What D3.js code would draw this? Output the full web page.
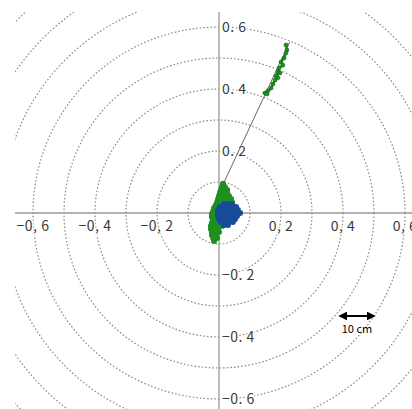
<!DOCTYPE html>
<html><head><meta charset="utf-8">
<script src="https://cdn.jsdelivr.net/npm/d3@7/dist/d3.min.js"></script>
<style>html,body{margin:0;padding:0;background:#fff;}svg{display:block;}</style>
</head><body>
<svg id="c" width="412" height="409"></svg>
<script>
// ---- data (metres) ----
const ringRadii = [0.1,0.2,0.3,0.4,0.5,0.6,0.7,0.8,0.9,1.0];
const xTicks = [-0.6,-0.4,-0.2,0.2,0.4,0.6];
const yTicks = [0.6,0.4,0.2,-0.2,-0.4,-0.6];
const xTickLabels = ["−0, 6","−0, 4","−0, 2","0, 2","0, 4","0, 6"];
const yTickLabels = ["0. 6","0. 4","0. 2","−0. 2","−0. 4","−0. 6"];
const greenCluster = [
 [0.013,0.094],[0.010,0.084],[0.019,0.084],[0.006,0.074],[0.016,0.074],[0.026,0.074],
 [0.003,0.065],[0.013,0.065],[0.026,0.065],[0,0.055],[0.010,0.055],[0.023,0.055],[0.032,0.055],
 [-0.003,0.045],[0.006,0.045],[0.019,0.045],[0.032,0.045],[0.039,0.045],
 [-0.006,0.035],[0.003,0.035],[0.016,0.035],[0.029,0.035],[0.042,0.035],
 [-0.010,0.026],[0,0.026],[0.013,0.026],[-0.016,0.016],[-0.006,0.016],[0.003,0.016],
 [-0.019,0.006],[-0.010,0.006],[0,0.006],[-0.023,-0.003],[-0.013,-0.003],[-0.003,-0.003],
 [-0.023,-0.013],[-0.013,-0.013],[-0.003,-0.013],[0.006,-0.013],
 [-0.019,-0.023],[-0.010,-0.023],[0.003,-0.023],[0.016,-0.023],
 [-0.023,-0.032],[-0.013,-0.032],[0,-0.032],[0.013,-0.032],
 [-0.026,-0.042],[-0.016,-0.042],[-0.003,-0.042],[0.010,-0.042],
 [-0.026,-0.052],[-0.016,-0.052],[-0.003,-0.052],[-0.023,-0.061],[-0.013,-0.061],[0,-0.061],
 [-0.023,-0.071],[-0.010,-0.071],[-0.019,-0.081],[-0.006,-0.081],[-0.016,-0.090]
];
const greenTrail = [
 [0.216,0.542],[0.219,0.526],[0.216,0.516],[0.210,0.500],[0.200,0.487],[0.206,0.477],
 [0.194,0.468],[0.190,0.455],[0.197,0.452],[0.184,0.442],[0.190,0.436],[0.181,0.429],
 [0.174,0.416],[0.168,0.403],[0.158,0.394],[0.148,0.387],[0.155,0.384]
];
const blueCluster = [
 [0.016,0.029],[0.029,0.029],[0.042,0.029],
 [0.003,0.019],[0.016,0.019],[0.029,0.019],[0.042,0.019],[0.055,0.019],
 [-0.003,0.010],[0.010,0.010],[0.023,0.010],[0.035,0.010],[0.048,0.010],[0.061,0.010],
 [-0.003,0],[0.010,0],[0.023,0],[0.035,0],[0.048,0],[0.061,0],[0.068,0],
 [-0.003,-0.010],[0.010,-0.010],[0.023,-0.010],[0.035,-0.010],[0.048,-0.010],[0.058,-0.010],
 [0,-0.019],[0.013,-0.019],[0.026,-0.019],[0.039,-0.019],[0.052,-0.019],
 [0.006,-0.029],[0.019,-0.029],[0.032,-0.029],[0.045,-0.029],[0.016,-0.039],[0.029,-0.039]
];
const directionLine = [[0.012,0.090],[0.228,0.552]];

// ---- drawing ----
const svg = d3.select("#c");
const cx = 219, cy = 213, k = 310;
const x = d3.scaleLinear().domain([-1,1]).range([cx-k, cx+k]);
const y = d3.scaleLinear().domain([-1,1]).range([cy+k, cy-k]);
const r = d3.scaleLinear().domain([0,1]).range([0,k]);

svg.append("defs").append("clipPath").attr("id","clip")
  .append("rect").attr("x",15).attr("y",12).attr("width",397).attr("height",397);

const g = svg.append("g").attr("clip-path","url(#clip)");
g.selectAll("circle.ring").data(ringRadii).join("circle")
  .attr("class","ring").attr("cx",x(0)).attr("cy",y(0)).attr("r",d=>r(d))
  .attr("fill","none").attr("stroke","#8c8c8c").attr("stroke-width",1.2)
  .attr("stroke-dasharray","1.6,2");

// axes
svg.append("line").attr("x1",15).attr("x2",412).attr("y1",y(0)).attr("y2",y(0))
  .attr("stroke","#999").attr("stroke-width",1.3);
svg.append("line").attr("x1",x(0)).attr("x2",x(0)).attr("y1",12).attr("y2",409)
  .attr("stroke","#999").attr("stroke-width",1.3);

const font = "'Noto Sans CJK JP','DejaVu Sans',sans-serif";
svg.selectAll("text.xl").data(xTicks).join("text").attr("class","xl")
  .attr("x",d=>x(d)).attr("y",y(0)+18).attr("text-anchor","middle")
  .attr("font-family",font).attr("font-size",14).attr("letter-spacing",0.5).attr("fill","#3a3a3a")
  .attr("stroke","#fff").attr("stroke-width",3).attr("paint-order","stroke")
  .text((d,i)=>xTickLabels[i]);
svg.selectAll("text.yl").data(yTicks).join("text").attr("class","yl")
  .attr("x",x(0)+3).attr("y",d=>y(d)+5).attr("text-anchor","start")
  .attr("font-family",font).attr("font-size",14).attr("letter-spacing",0.5).attr("fill","#3a3a3a")
  .attr("stroke","#fff").attr("stroke-width",3).attr("paint-order","stroke")
  .text((d,i)=>yTickLabels[i]);

// direction line
svg.append("line")
  .attr("x1",x(directionLine[0][0])).attr("y1",y(directionLine[0][1]))
  .attr("x2",x(directionLine[1][0])).attr("y2",y(directionLine[1][1]))
  .attr("stroke","#555").attr("stroke-width",0.9);

const green = "#1f8f1f", blue = "#174c98";
svg.append("path").datum(greenTrail)
  .attr("d",d3.line().x(d=>x(d[0])).y(d=>y(d[1])))
  .attr("fill","none").attr("stroke",green).attr("stroke-width",2.2);
svg.selectAll("circle.gt").data(greenTrail).join("circle").attr("class","gt")
  .attr("cx",d=>x(d[0])).attr("cy",d=>y(d[1])).attr("r",2)
  .attr("fill",green).attr("stroke","#146614").attr("stroke-width",0.6);
svg.selectAll("circle.gc").data(greenCluster).join("circle").attr("class","gc")
  .attr("cx",d=>x(d[0])).attr("cy",d=>y(d[1])).attr("r",3)
  .attr("fill",green);
svg.selectAll("circle.bc").data(blueCluster).join("circle").attr("class","bc")
  .attr("cx",d=>x(d[0])).attr("cy",d=>y(d[1])).attr("r",3)
  .attr("fill",blue);

// scale bar
const defs = svg.select("defs");
defs.append("marker").attr("id","ah").attr("viewBox","0 0 10 10").attr("refX",8).attr("refY",5)
  .attr("markerWidth",4).attr("markerHeight",4).attr("orient","auto-start-reverse")
  .append("path").attr("d","M0,0 L10,5 L0,10 z").attr("fill","#000");
svg.append("line").attr("x1",340).attr("x2",374).attr("y1",316).attr("y2",316)
  .attr("stroke","#000").attr("stroke-width",2.2)
  .attr("marker-start","url(#ah)").attr("marker-end","url(#ah)");
svg.append("text").attr("x",357).attr("y",333).attr("text-anchor","middle")
  .attr("font-family",font).attr("font-size",11).attr("fill","#000").text("10 cm");
</script>
</body></html>
